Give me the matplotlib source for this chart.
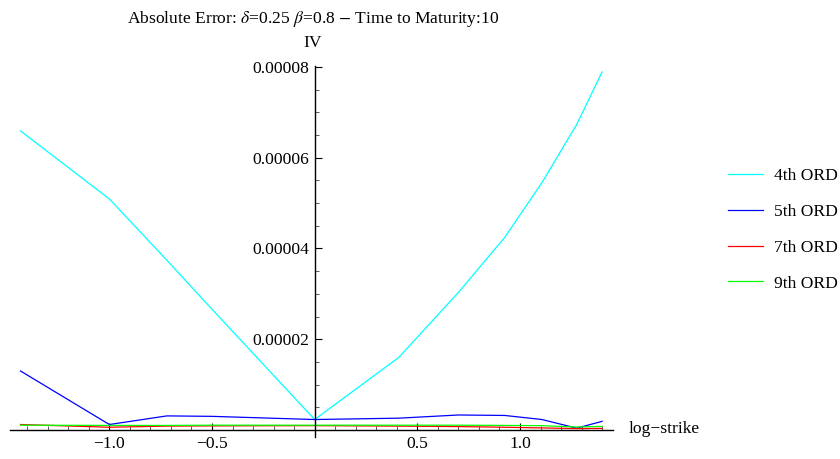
import matplotlib
matplotlib.use('Agg')
import matplotlib.pyplot as plt
import matplotlib.ticker as mt
import numpy as np

# log-strike sample points
log_strike = [-1.433, -1.0, -0.72, -0.5, 0.0, 0.41, 0.70, 0.925, 1.107, 1.276, 1.40]

err4 = [6.59e-5, 5.09e-5, 3.74e-5, 2.66e-5, 2.3e-6, 1.60e-5, 3.03e-5, 4.24e-5, 5.45e-5, 6.73e-5, 7.89e-5]
err5 = [1.30e-5, 1.2e-6, 3.1e-6, 3.0e-6, 2.3e-6, 2.6e-6, 3.3e-6, 3.2e-6, 2.3e-6, 0.4e-6, 1.9e-6]
err7 = [1.2e-6, 0.6e-6, 0.85e-6, 0.9e-6, 0.95e-6, 0.85e-6, 0.75e-6, 0.6e-6, 0.45e-6, 0.3e-6, 0.35e-6]
err9 = [1.05e-6, 1.0e-6, 1.0e-6, 1.05e-6, 1.05e-6, 1.05e-6, 1.05e-6, 1.0e-6, 0.95e-6, 0.65e-6, 0.8e-6]

labels = ['4th ORD', '5th ORD', '7th ORD', '9th ORD']
colors = ['#00ffff', '#0000ff', '#ff0000', '#00ff00']

plt.rcParams['font.family'] = 'Liberation Serif'
plt.rcParams['mathtext.fontset'] = 'stix'
fs = 12.6
plt.rcParams['font.size'] = fs

fig = plt.figure(figsize=(8.4, 4.59), dpi=100)
ax = fig.add_axes([10/840, 1 - 437/459, 603/840, 371/459])

for y, lab, c in zip([err4, err5, err7, err9], labels, colors):
    ax.plot(log_strike, y, color=c, lw=0.9, label=lab)

ax.set_xlim(-1.484, 1.453)
ax.set_ylim(-1.55e-6, 8.02e-5)

# mathematica style axes through the origin
ax.spines['left'].set_position(('data', 0))
ax.spines['bottom'].set_position(('data', 0))
ax.spines['right'].set_visible(False)
ax.spines['top'].set_visible(False)
for s in ['left', 'bottom']:
    ax.spines[s].set_linewidth(1.0)

ax.xaxis.set_major_locator(mt.FixedLocator([-1.0, -0.5, 0.5, 1.0]))
ax.xaxis.set_minor_locator(mt.MultipleLocator(0.1))
ax.xaxis.set_major_formatter(mt.FuncFormatter(lambda v, p: ('%.1f' % v).replace('-', '\u2212')))
ax.yaxis.set_major_locator(mt.FixedLocator([2e-5, 4e-5, 6e-5, 8e-5]))
ax.yaxis.set_minor_locator(mt.MultipleLocator(5e-6))
ax.yaxis.set_major_formatter(mt.FuncFormatter(lambda v, p: '%.5f' % v))

ax.tick_params(which='major', direction='in', length=4.8, width=0.8, pad=4, labelsize=fs)
ax.tick_params(which='minor', direction='in', length=3.2, width=0.7, color='0.35')

fig.text(313/840, 1 - 19/459, r'Absolute Error: $\delta$=0.25 $\beta$=0.8 $-$ Time to Maturity:10',
         ha='center', va='center', fontsize=fs)
fig.text(313/840, 1 - 42.7/459, 'IV', ha='center', va='center', fontsize=fs)
fig.text(629/840, 1 - 429/459, 'log\u2212strike', ha='left', va='center', fontsize=fs)

fig.legend(loc='center left', bbox_to_anchor=(728/840, 1 - 229.7/459), frameon=False,
           borderpad=0, borderaxespad=0, handlelength=2.0, handletextpad=0.62,
           labelspacing=1.12, fontsize=fs)

fig.savefig('out.png', dpi=100)
